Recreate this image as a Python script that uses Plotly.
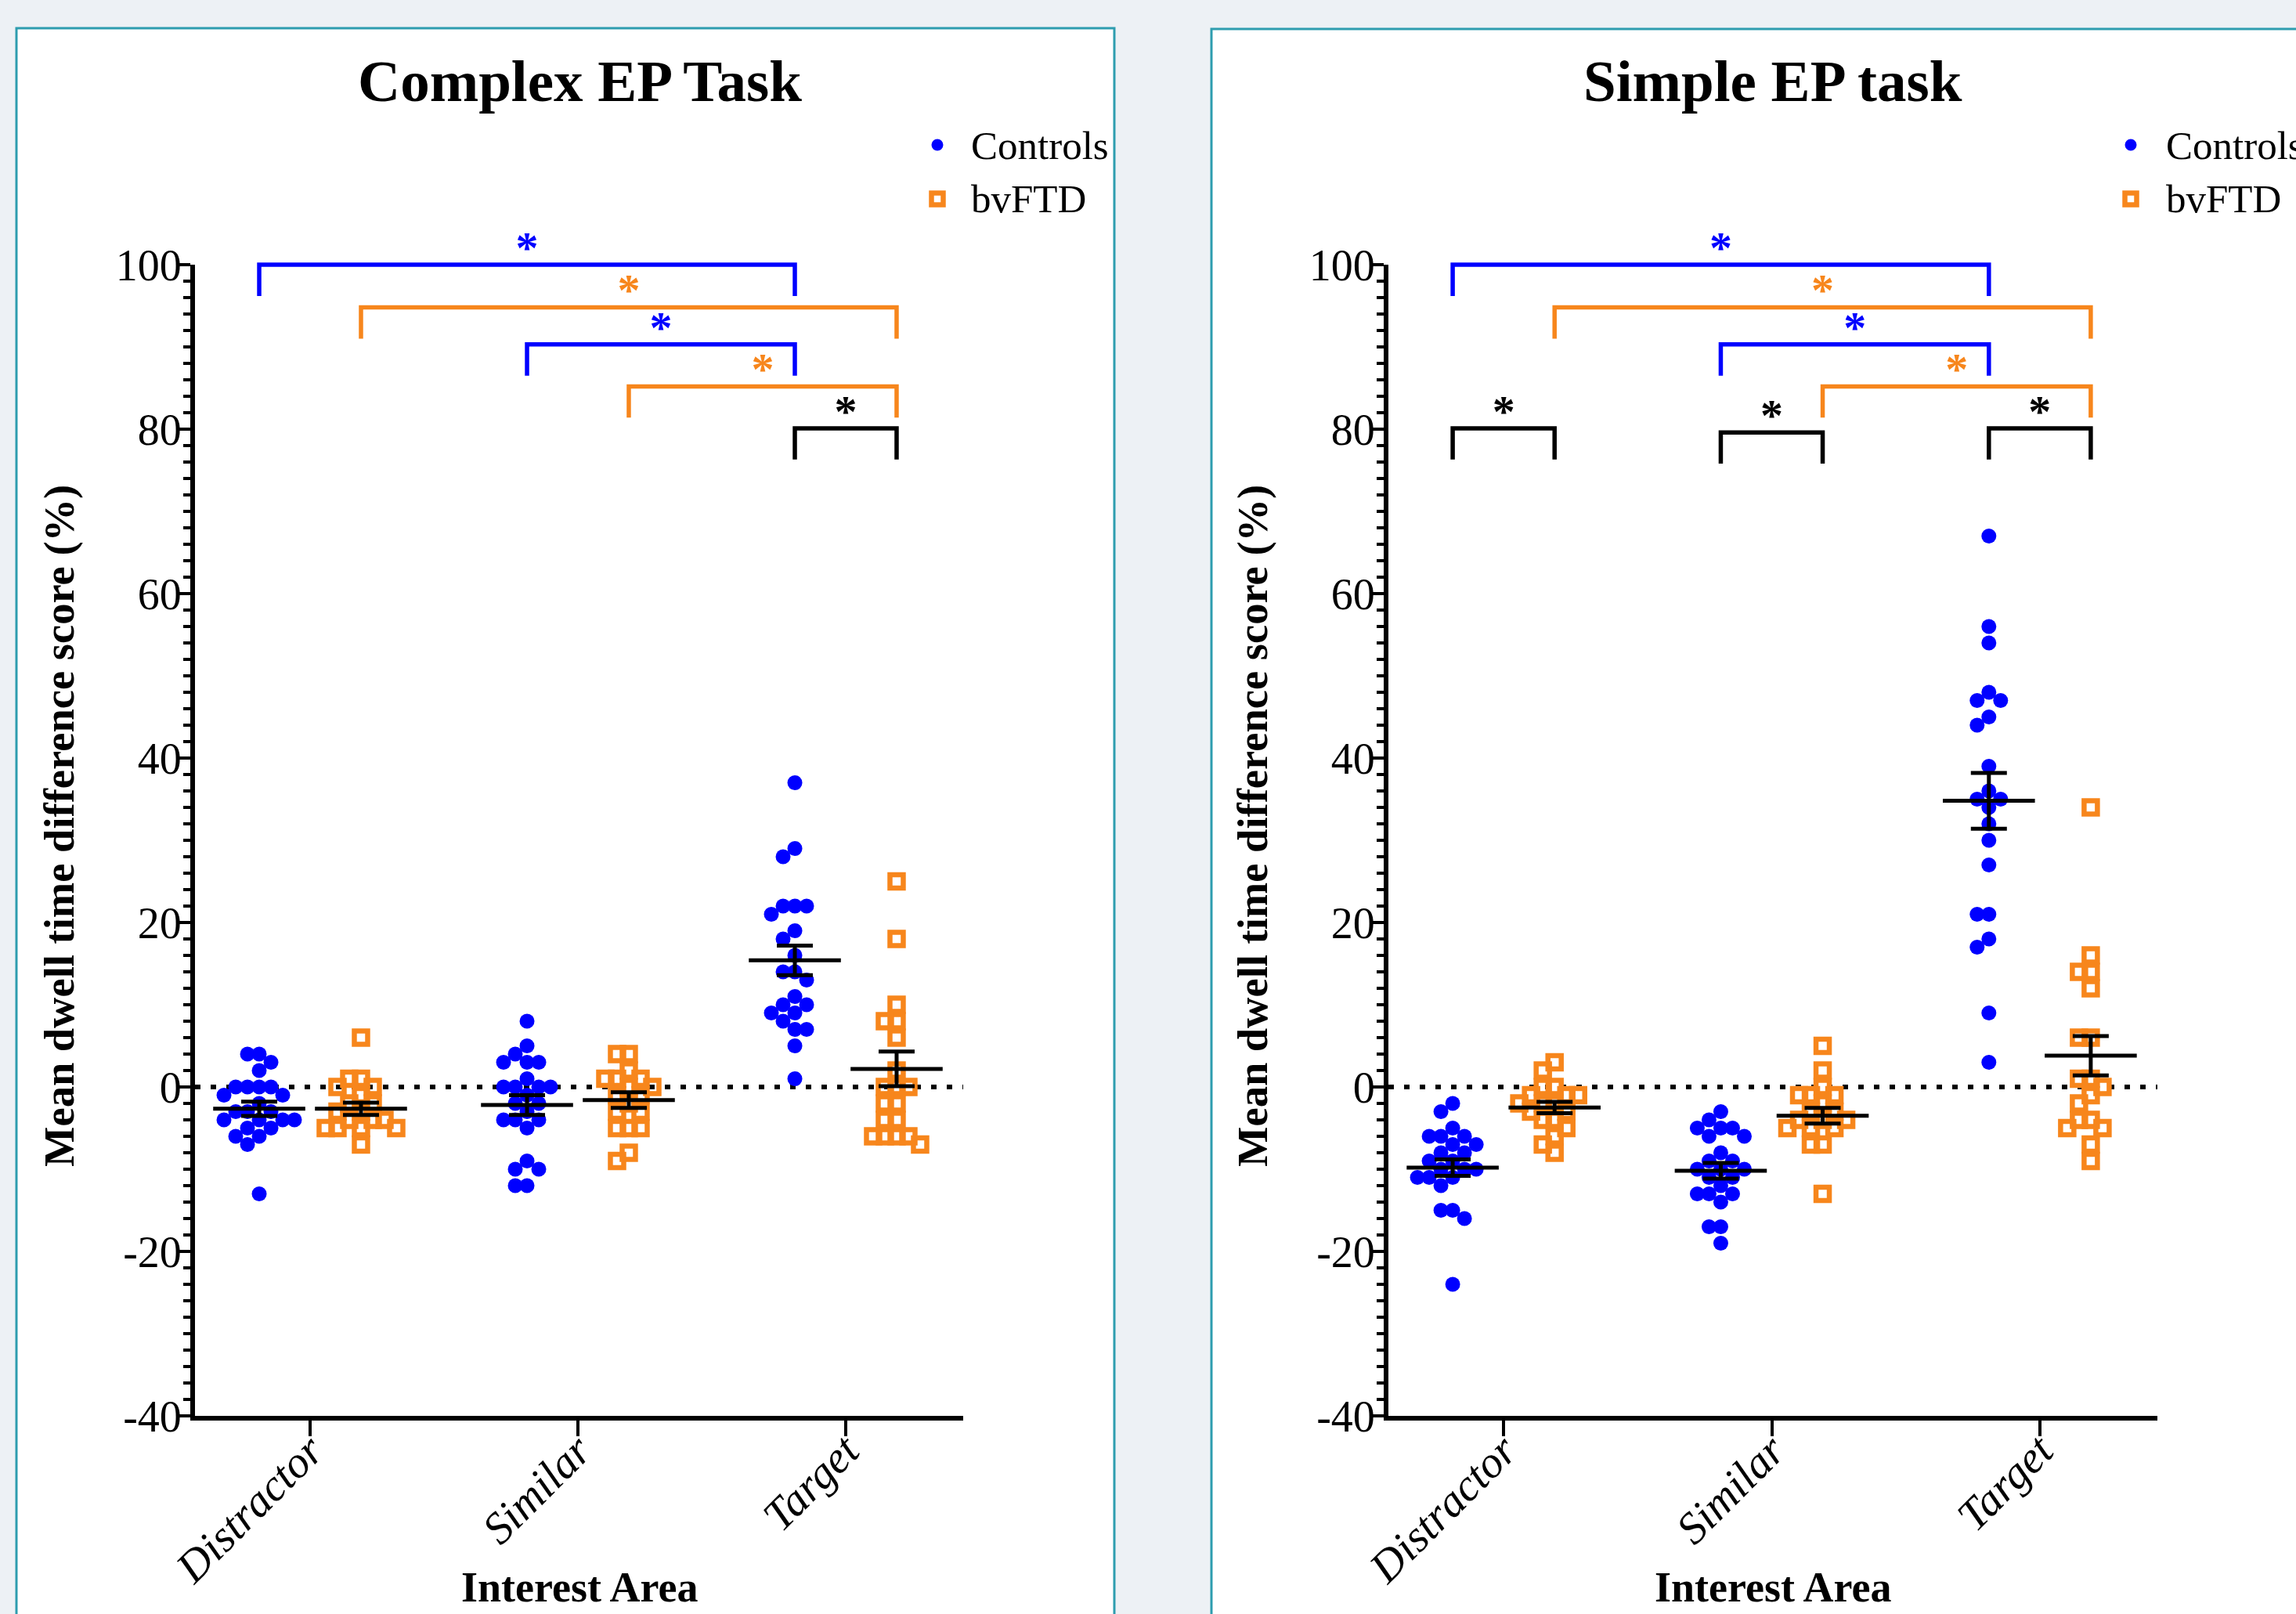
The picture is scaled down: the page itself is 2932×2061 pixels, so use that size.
import numpy as np
import plotly.graph_objects as go

# ---------------- data ----------------
categories = ["Distractor", "Similar", "Target"]
groups = ["Controls", "bvFTD"]
y_tick_values = [-40, -20, 0, 20, 40, 60, 80, 100]
y_tick_labels = ["-40", "-20", "0", "20", "40", "60", "80", "100"]

# Complex EP task
complex_controls_distractor = [4, 4, 3, 2, 0, 0, 0, 0, -1, -1, -2, -3, -3, -3, -4, -4, -4, -4, -5, -5, -6, -6, -7, -13]
complex_controls_similar = [8, 5, 4, 3, 3, 3, 1, 0, 0, 0, 0, -1, -2, -2, -3, -4, -4, -4, -5, -9, -10, -10, -12, -12]
complex_controls_target = [37, 29, 28, 22, 22, 22, 21, 19, 18, 16, 14, 14, 13, 11, 10, 10, 9, 9, 8, 7, 7, 5, 1]
complex_bvftd_distractor = [6, 1, 1, 0, 0, -1, -2, -2, -3, -3, -4, -4, -4, -5, -5, -5, -5, -7]
complex_bvftd_similar = [4, 4, 2, 1, 1, 1, 0, 0, -1, -1, -2, -3, -3, -5, -5, -5, -8, -9]
complex_bvftd_target = [25, 18, 10, 8, 8, 6, 2, 0, 0, 0, -2, -2, -4, -4, -6, -6, -6, -6, -7]

complex_controls_mean = [-2.65, -2.2, 15.4]
complex_controls_sem = [0.87, 1.2, 1.8]
complex_bvftd_mean = [-2.65, -1.6, 2.2]
complex_bvftd_sem = [0.75, 0.95, 2.1]

# Simple EP task
simple_controls_distractor = [-2, -3, -5, -6, -6, -6, -7, -7, -8, -8, -9, -9, -10, -10, -10, -11, -11, -11, -12, -15, -15, -16, -24]
simple_controls_similar = [-3, -4, -5, -5, -5, -6, -6, -8, -9, -9, -10, -10, -10, -11, -11, -12, -13, -13, -13, -14, -17, -17, -19]
simple_controls_target = [67, 56, 54, 48, 47, 47, 45, 44, 39, 36, 35, 35, 34, 32, 30, 27, 21, 21, 18, 17, 9, 3]
simple_bvftd_distractor = [3, 2, 0, 0, -1, -1, -1, -2, -2, -2, -3, -3, -4, -4, -5, -6, -7, -8]
simple_bvftd_similar = [5, 2, 0, -1, -1, -1, -2, -3, -3, -4, -4, -4, -5, -5, -5, -7, -7, -13]
simple_bvftd_target = [34, 16, 14, 14, 12, 6, 6, 1, 1, 0, -1, -2, -4, -4, -5, -5, -7, -9]

simple_controls_mean = [-9.8, -10.2, 34.8]
simple_controls_sem = [1.0, 0.95, 3.4]
simple_bvftd_mean = [-2.5, -3.5, 3.8]
simple_bvftd_sem = [0.7, 0.95, 2.4]

# significance brackets: (from (category, group), to (category, group), level, colour key)
complex_brackets = [
    (("Distractor", "Controls"), ("Target", "Controls"), 100.0, "Controls"),
    (("Distractor", "bvFTD"), ("Target", "bvFTD"), 94.8, "bvFTD"),
    (("Similar", "Controls"), ("Target", "Controls"), 90.3, "Controls"),
    (("Similar", "bvFTD"), ("Target", "bvFTD"), 85.2, "bvFTD"),
    (("Target", "Controls"), ("Target", "bvFTD"), 80.1, "between"),
]
simple_brackets = [
    (("Distractor", "Controls"), ("Target", "Controls"), 100.0, "Controls"),
    (("Distractor", "bvFTD"), ("Target", "bvFTD"), 94.8, "bvFTD"),
    (("Similar", "Controls"), ("Target", "Controls"), 90.3, "Controls"),
    (("Similar", "bvFTD"), ("Target", "bvFTD"), 85.2, "bvFTD"),
    (("Distractor", "Controls"), ("Distractor", "bvFTD"), 80.1, "between"),
    (("Similar", "Controls"), ("Similar", "bvFTD"), 79.6, "between"),
    (("Target", "Controls"), ("Target", "bvFTD"), 80.1, "between"),
]

# ---------------- style ----------------
W, H = 2932, 2061
SERIF = "Liberation Serif"
BLUE = "#0000FF"
ORANGE = "#F7861C"
COLORS = {"Controls": BLUE, "bvFTD": ORANGE, "between": "black"}
GROUP_OFFSET = {"Controls": -0.19, "bvFTD": 0.19}
PX_PER_CAT = 342.0
PX_PER_UNIT = 10.5

Y0_PX, Y1_PX = 1808, 338           # pixel rows of -40 and 100
d0, d1 = 1 - Y0_PX / H, 1 - Y1_PX / H
k = (d1 - d0) / 140.0
XL = 249                           # pixel column of the left plot edge
XR = [-(396 - XL) / PX_PER_CAT, (1230 - 396) / PX_PER_CAT]

panels = [
    dict(title="Complex EP Task", xdom=[XL / W, 1230 / W], xa="x", ya="y", yb="y3",
         data={("Controls", "Distractor"): complex_controls_distractor,
               ("Controls", "Similar"): complex_controls_similar,
               ("Controls", "Target"): complex_controls_target,
               ("bvFTD", "Distractor"): complex_bvftd_distractor,
               ("bvFTD", "Similar"): complex_bvftd_similar,
               ("bvFTD", "Target"): complex_bvftd_target},
         means={"Controls": (complex_controls_mean, complex_controls_sem),
                "bvFTD": (complex_bvftd_mean, complex_bvftd_sem)},
         brackets=complex_brackets,
         legend_x=1197, legend_tx=1238, ytitle_x=75, title_x=740),
    dict(title="Simple EP task", xdom=[(XL + 1524) / W, 2755 / W], xa="x2", ya="y2", yb="y4",
         data={("Controls", "Distractor"): simple_controls_distractor,
               ("Controls", "Similar"): simple_controls_similar,
               ("Controls", "Target"): simple_controls_target,
               ("bvFTD", "Distractor"): simple_bvftd_distractor,
               ("bvFTD", "Similar"): simple_bvftd_similar,
               ("bvFTD", "Target"): simple_bvftd_target},
         means={"Controls": (simple_controls_mean, simple_controls_sem),
                "bvFTD": (simple_bvftd_mean, simple_bvftd_sem)},
         brackets=simple_brackets,
         legend_x=2721, legend_tx=2764, ytitle_x=1599, title_x=2264),
]


def swarm(values, center, D=15.0, h=7.5):
    """Greedy beeswarm: returns x positions (category units)."""
    vals = np.asarray(values, dtype=float)
    xs = np.zeros(len(vals))
    placed = []
    cands = [0]
    for j in range(1, 30):
        cands += [-j, j]
    for i in np.argsort(-vals, kind="stable"):
        y = vals[i] * PX_PER_UNIT
        off = 0.0
        for c in cands:
            off = c * h
            if all((off - px) ** 2 + (y - py) ** 2 >= D * D for px, py in placed):
                break
        placed.append((off, y))
        xs[i] = center + off / PX_PER_CAT
    return xs


def gx(cat, grp):
    return categories.index(cat) + GROUP_OFFSET[grp]


fig = go.Figure()
shapes = []
annotations = []

for p in panels:
    xa, ya, yb = p["xa"], p["ya"], p["yb"]
    # points
    for grp in groups:
        xs_all, ys_all = [], []
        for cat in categories:
            v = p["data"][(grp, cat)]
            xs_all += list(swarm(v, gx(cat, grp)))
            ys_all += list(v)
        if grp == "Controls":
            marker = dict(symbol="circle", size=19, color=BLUE, line=dict(width=0))
        else:
            marker = dict(symbol="square-open", size=17, color=ORANGE, line=dict(width=6.5, color=ORANGE))
        fig.add_trace(go.Scatter(x=xs_all, y=ys_all, mode="markers", marker=marker,
                                 xaxis=xa, yaxis=ya, showlegend=False, hoverinfo="skip"))
    # mean +/- SEM
    for grp in groups:
        m, s = p["means"][grp]
        fig.add_trace(go.Scatter(
            x=[gx(c, grp) for c in categories], y=m, mode="markers",
            marker=dict(symbol="line-ew", size=84, color="black", line=dict(width=5, color="black")),
            error_y=dict(type="data", array=s, visible=True, thickness=5, width=23, color="black"),
            xaxis=xa, yaxis=ya, showlegend=False, hoverinfo="skip"))
    # brackets
    for (c1, g1), (c2, g2), lvl, ck in p["brackets"]:
        col = COLORS[ck]
        xa1, xa2 = gx(c1, g1), gx(c2, g2)
        fig.add_trace(go.Scatter(x=[xa1, xa1, xa2, xa2], y=[lvl - 3.8, lvl, lvl, lvl - 3.8],
                                 mode="lines", line=dict(color=col, width=5.5),
                                 xaxis=xa, yaxis=yb, showlegend=False, hoverinfo="skip"))
        fig.add_trace(go.Scatter(x=[(xa1 + xa2) / 2], y=[lvl + 1.6], mode="text", text=["*"],
                                 textposition="middle center",
                                 textfont=dict(family=SERIF, size=58, color=col, weight="bold"),
                                 cliponaxis=False, xaxis=xa, yaxis=yb,
                                 showlegend=False, hoverinfo="skip"))
    # zero dotted line
    shapes.append(dict(type="line", xref=f"{xa} domain", x0=0, x1=1, yref=ya, y0=0, y1=0,
                       line=dict(color="black", width=6, dash="7px,13px"), layer="below"))
    # titles
    xc = p["title_x"] / W
    annotations.append(dict(text="<b>%s</b>" % p["title"], x=xc, y=1 - 104 / H, xref="paper", yref="paper",
                            showarrow=False, xanchor="center", yanchor="middle",
                            font=dict(family=SERIF, size=75, color="black")))
    annotations.append(dict(text="<b>Interest Area</b>", x=xc, y=1 - 2027 / H, xref="paper", yref="paper",
                            showarrow=False, xanchor="center", yanchor="middle",
                            font=dict(family=SERIF, size=54, color="black")))
    annotations.append(dict(text="<b>Mean dwell time difference score (%)</b>", x=p["ytitle_x"] / W,
                            y=1 - 1055 / H, xref="paper", yref="paper", textangle=-90,
                            showarrow=False, xanchor="center", yanchor="middle",
                            font=dict(family=SERIF, size=54.5, color="black")))
    # legend
    for name, yy in (("Controls", 186), ("bvFTD", 254)):
        annotations.append(dict(text=name, x=p["legend_tx"] / W, y=1 - yy / H, xref="paper", yref="paper",
                                showarrow=False, xanchor="left", yanchor="middle",
                                font=dict(family=SERIF, size=51, color="black")))
    lx = p["legend_x"] / W
    shapes.append(dict(type="circle", xref="paper", yref="paper", xsizemode="pixel", ysizemode="pixel",
                       xanchor=lx, yanchor=1 - 185 / H, x0=-7.5, x1=7.5, y0=-7.5, y1=7.5,
                       fillcolor=BLUE, line=dict(width=0)))
    shapes.append(dict(type="rect", xref="paper", yref="paper", xsizemode="pixel", ysizemode="pixel",
                       xanchor=lx, yanchor=1 - 254 / H, x0=-7.5, x1=7.5, y0=-7.5, y1=7.5,
                       fillcolor="rgba(0,0,0,0)", line=dict(width=6.5, color=ORANGE)))

# panel frames
shapes.insert(0, dict(type="rect", xref="paper", yref="paper", x0=21 / W, x1=1423 / W, y0=-0.05, y1=1 - 36 / H,
                      fillcolor="white", line=dict(color="#2E9DAF", width=3), layer="below"))
shapes.insert(1, dict(type="rect", xref="paper", yref="paper", x0=1547 / W, x1=1.05, y0=-0.05, y1=1 - 37 / H,
                      fillcolor="white", line=dict(color="#2E9DAF", width=3), layer="below"))

xaxis_common = dict(range=XR, tickvals=[0, 1, 2], ticktext=categories, tickangle=-45,
                    ticks="outside", ticklen=20, tickwidth=4, tickcolor="black", automargin=False,
                    ticklabelstandoff=-38,
                    showline=True, linewidth=6, linecolor="black", showgrid=False, zeroline=False,
                    tickfont=dict(family=SERIF, size=57, color="black", style="italic"), fixedrange=True)
yaxis_common = dict(range=[-40, 100], domain=[d0, d1], tickvals=y_tick_values, ticktext=y_tick_labels,
                    ticks="outside", ticklen=16, tickwidth=4, tickcolor="black", automargin=False,
                    ticklabelstandoff=-16,
                    minor=dict(dtick=2, tick0=0, ticks="outside", ticklen=9, tickwidth=4, tickcolor="black",
                               showgrid=False),
                    showline=True, linewidth=6, linecolor="black", showgrid=False, zeroline=False,
                    tickfont=dict(family=SERIF, size=56, color="black"), fixedrange=True)
yb_common = dict(range=[-40, 115], domain=[d0, d0 + 155 * k], visible=False, showgrid=False,
                 zeroline=False, fixedrange=True, automargin=False)

fig.update_layout(
    width=W, height=H, autosize=False,
    margin=dict(l=0, r=0, t=0, b=0, pad=0),
    paper_bgcolor="#EDF1F5", plot_bgcolor="rgba(0,0,0,0)",
    showlegend=False,
    xaxis=dict(domain=panels[0]["xdom"], anchor="y", **xaxis_common),
    xaxis2=dict(domain=panels[1]["xdom"], anchor="y2", **xaxis_common),
    yaxis=dict(anchor="x", **yaxis_common),
    yaxis2=dict(anchor="x2", **yaxis_common),
    yaxis3=dict(anchor="x", **yb_common),
    yaxis4=dict(anchor="x2", **yb_common),
    shapes=shapes,
    annotations=annotations,
)

fig.write_html("out.html", config={"displayModeBar": False},
               post_script="document.body.style.margin='0';document.body.style.overflow='hidden';")
